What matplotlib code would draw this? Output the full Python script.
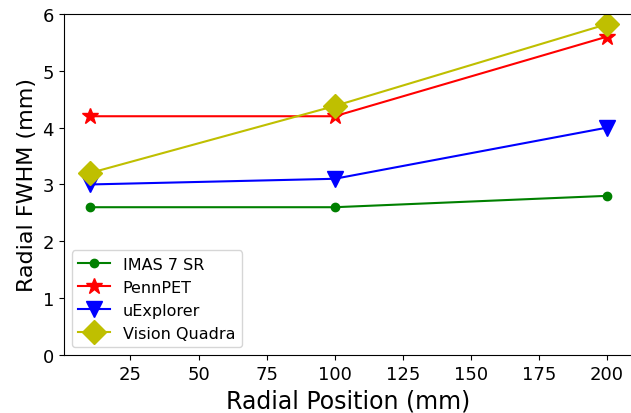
import matplotlib.pyplot as plt

positions = [10, 100, 200]
imas = [2.6, 2.6, 2.8]
pennpet = [4.2, 4.2, 5.6]
uexplorer = [3.0, 3.1, 4.0]
quadra = [3.2, 4.38, 5.82]

fig = plt.figure(figsize=(6.31, 4.14), dpi=100)
ax = fig.add_axes([0.101, 0.14, 0.902, 0.824])

ax.plot(positions, imas, "g-o", markersize=6, label="IMAS 7 SR")
ax.plot(positions, pennpet, "r-*", markersize=12, label="PennPET")
ax.plot(positions, uexplorer, "b-v", markersize=12, label="uExplorer")
ax.plot(positions, quadra, "y-D", markersize=12, label="Vision Quadra")

ax.set_ylim(0, 6)
ax.set_xticks([25, 50, 75, 100, 125, 150, 175, 200])
ax.tick_params(labelsize=13)
ax.set_xlabel("Radial Position (mm)", fontsize=17)
ax.set_ylabel("Radial FWHM (mm)", fontsize=16)
ax.legend(loc="lower left", fontsize=11.5)

fig.savefig("out.png", dpi=100)
